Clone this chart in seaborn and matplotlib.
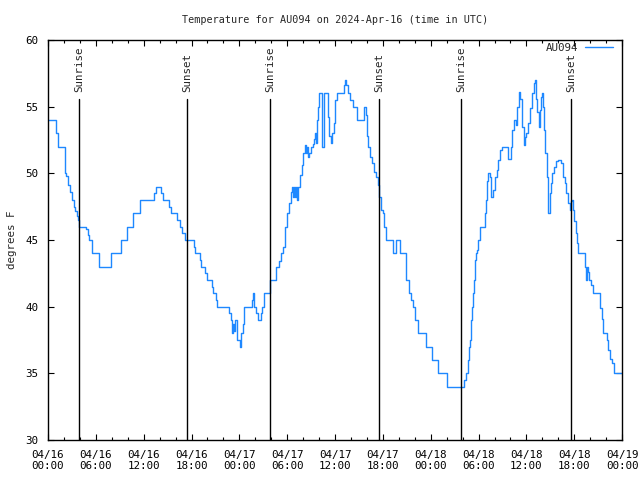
import pandas as pd
import numpy as np
import seaborn as sns
import matplotlib.pyplot as plt
import matplotlib.dates as mdates

# hours since 2024-04-16 00:00 UTC and temperature (F)
hours = [0, 1.00, 1.25, 2.13, 2.26, 2.51, 2.76, 3.01, 3.26, 3.39, 3.64, 3.76, 3.89,
         4.77, 5.02, 5.14, 5.52, 6.40, 7.90, 9.16, 9.91, 10.66, 11.54, 13.30, 13.55,
         14.17, 14.43, 15.18, 15.43, 16.18, 16.56, 16.81, 17.18, 18.31, 18.44, 19.07,
         19.19, 19.69, 19.94, 20.57, 20.70, 21.07, 21.20, 22.70, 22.95, 23.08, 23.21,
         23.33, 23.46, 23.71, 24.08, 24.21, 24.46, 24.59, 25.59, 25.71, 25.84, 26.09,
         26.34, 26.72, 26.84, 27.09, 27.85, 28.60, 28.98, 29.23, 29.48, 29.73, 29.98,
         30.23, 30.48, 30.61, 30.73, 30.86, 30.98, 31.11, 31.23, 31.36, 31.61, 31.86,
         31.99, 32.24, 32.36, 32.49, 32.61, 32.74, 32.99, 33.24, 33.37, 33.49, 33.62,
         33.74, 33.87, 33.99, 34.37, 34.62, 35.00, 35.12, 35.25, 35.50, 35.63, 35.88,
         36.00, 36.25, 37.13, 37.25, 37.38, 37.63, 37.88, 38.26, 38.76, 39.64, 39.89,
         40.01, 40.14, 40.39, 40.64, 40.89, 41.14, 41.39, 41.52, 41.77, 42.02, 42.14,
         42.40, 43.28, 43.65, 44.15, 44.91, 45.28, 45.53, 45.78, 46.03, 46.41, 47.41,
         48.17, 48.92, 50.05, 52.18, 52.43, 52.68, 52.81, 52.93, 53.06, 53.18, 53.31,
         53.44, 53.56, 53.69, 53.81, 53.94, 54.19, 54.81, 54.94, 55.07, 55.19, 55.44,
         55.57, 55.82, 56.07, 56.32, 56.45, 56.70, 56.95, 57.70, 58.08, 58.20, 58.45,
         58.70, 58.83, 59.08, 59.21, 59.46, 59.71, 59.83, 59.96, 60.21, 60.46, 60.71,
         60.96, 61.09, 61.21, 61.34, 61.59, 61.71, 61.84, 61.97, 62.09, 62.22, 62.34,
         62.59, 62.72, 62.97, 63.10, 63.22, 63.47, 63.72, 63.97, 64.35, 64.60, 64.85,
         64.98, 65.23, 65.48, 65.60, 65.73, 65.86, 65.98, 66.23, 66.36, 66.48, 67.36,
         67.49, 67.61, 67.74, 67.86, 68.11, 68.36, 69.24, 69.49, 69.61, 70.12, 70.24,
         70.49, 70.74, 70.99, 72.0]
temps = [54, 53, 52, 50, 49.8, 49.1, 48.6, 48, 47.5, 47.2, 46.8, 46.5, 46,
         45.8, 45.4, 45, 44, 43, 44, 45, 46, 47, 48, 48.5, 49,
         48.5, 48, 47.5, 47, 46.5, 46, 45.5, 45, 44.5, 44, 43.5,
         43, 42.5, 42, 41.5, 41, 40.5, 40, 39.5, 39, 38, 38.7,
         38.2, 39, 37.5, 37, 38, 38.7, 40, 40.5, 41, 40, 39.5,
         39, 39.5, 40, 41, 42, 43, 43.4, 44, 44.5, 46, 47,
         47.8, 48.6, 49, 48.2, 49, 48.2, 49, 48, 49, 49.9, 50.6,
         51.5, 52.1, 51.5, 52, 51.2, 51.5, 52, 52.2, 52.6, 53, 52.3,
         54, 55, 56, 52, 56, 56, 54.2, 52.8, 52.25, 53, 53.8,
         55.5, 56, 56.6, 57, 56.6, 56, 55.5, 55, 54, 55, 54.4,
         52.8, 52, 51.25, 50.8, 50.1, 49.75, 49.1, 48.25, 47.25, 47, 46,
         45, 44, 45, 44, 42, 41, 40.5, 40, 39, 38, 37,
         36, 35, 34, 34.5, 35, 36, 37, 37.5, 39, 40, 41,
         42, 43.5, 44, 44.25, 45, 46, 47, 48, 49.4, 50, 49.75,
         48.25, 48.75, 49.75, 50.25, 51, 51.75, 52, 51.1, 52, 53.25, 54,
         53.6, 55, 56.1, 55.6, 53.5, 52.1, 52.75, 53, 53.8, 54.9, 56,
         56.75, 57, 55.6, 54.6, 53.5, 54.75, 55.75, 56, 55, 53.25, 51.5,
         49.75, 47, 48.5, 49.25, 50, 50.5, 50.9, 51, 50.75, 49.75, 49.25,
         48.5, 47.75, 47.25, 47.9, 48, 47.25, 46.4, 45.5, 44.75, 44, 43,
         42, 43, 42.6, 42, 41.6, 41, 39.9, 39.1, 38, 37.5, 36.75,
         36.1, 35.75, 35, 35]

events = ["Sunrise", "Sunset", "Sunrise", "Sunset", "Sunrise", "Sunset"]
event_times = ["2024-04-16 03:53", "2024-04-16 17:26", "2024-04-17 03:51",
               "2024-04-17 17:31", "2024-04-18 03:49", "2024-04-18 17:36"]

start = pd.Timestamp("2024-04-16 00:00")
df = pd.DataFrame({"time": start + pd.to_timedelta(hours, unit="h"), "temp": temps})

sns.set_style("ticks")
plt.rcParams["font.family"] = ["DejaVu Sans Mono"]
plt.rcParams["font.size"] = 7.3

fig = plt.figure(figsize=(6.4, 4.8), dpi=100)
ax = fig.add_axes([0.075, 0.0833, 0.897, 0.8334])

sns.lineplot(data=df, x="time", y="temp", ax=ax, color="#1e88ff", linewidth=1,
             drawstyle="steps-post", estimator=None, label="AU094")

for name, t in zip(events, event_times):
    t = pd.Timestamp(t)
    ax.plot([t, t], [30, 55.6], color="black", linewidth=1)
    ax.text(t, 56.1, name, rotation=90, ha="center", va="bottom", fontsize=7.8)

ax.set_xlim(start, start + pd.Timedelta(hours=72))
ax.set_ylim(30, 60)
ax.set_yticks(np.arange(30, 61, 5))
ax.xaxis.set_major_locator(mdates.HourLocator(byhour=[0, 6, 12, 18]))
ax.xaxis.set_minor_locator(mdates.HourLocator(interval=2))
ax.xaxis.set_major_formatter(mdates.DateFormatter("%m/%d\n%H:%M"))
ax.tick_params(which="both", direction="in", top=True, right=True, colors="black",
               labelsize=7.8)
ax.tick_params(which="major", length=4.5, width=0.8, pad=7)
ax.tick_params(which="minor", length=2.5, width=0.8)
for s in ax.spines.values():
    s.set_color("black")
    s.set_linewidth(1)

ax.set_xlabel("")
ax.set_ylabel("degrees F", fontsize=7.8, labelpad=6)
ax.set_title("Temperature for AU094 on 2024-Apr-16 (time in UTC)", fontsize=7.3, pad=12)
ax.legend(loc="upper right", bbox_to_anchor=(0.99, 1.0), frameon=False,
          markerfirst=False, handlelength=2.6, handletextpad=0.6,
          borderaxespad=0, borderpad=0.3, fontsize=7.8)

fig.savefig("out.png", dpi=100)
